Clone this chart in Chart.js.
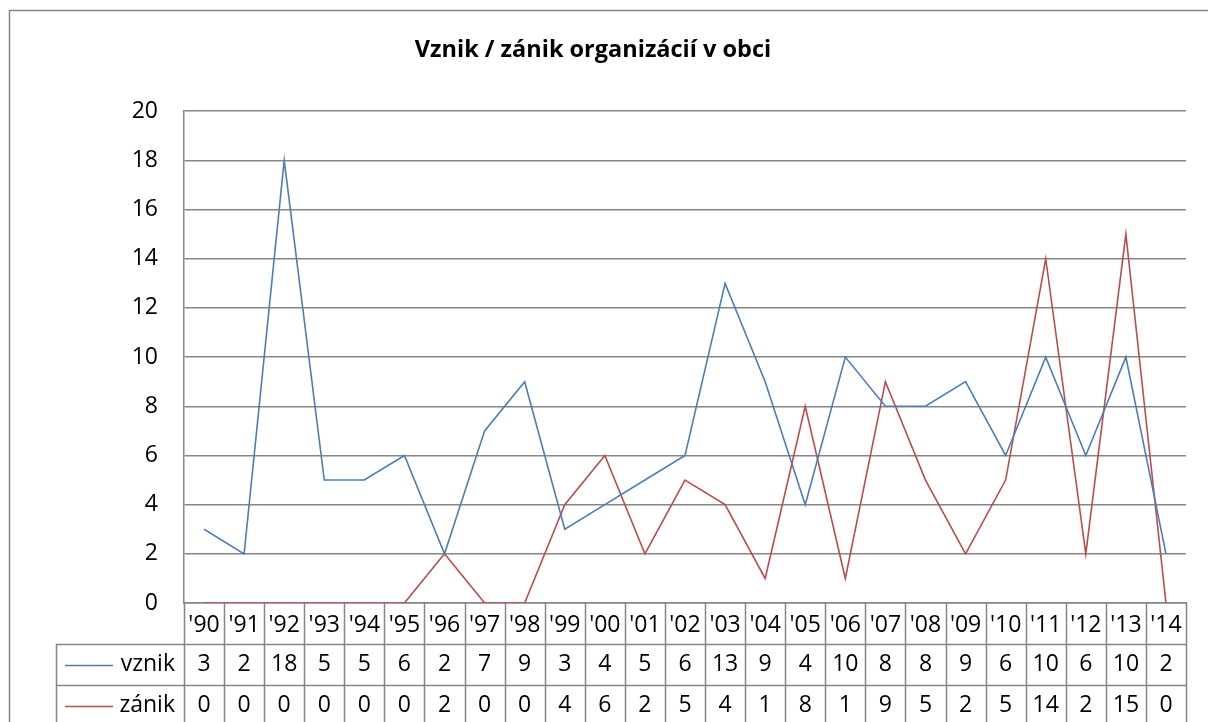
<!DOCTYPE html>
<html>
<head>
<meta charset="utf-8">
<script src="https://cdn.jsdelivr.net/npm/chart.js@4/dist/chart.umd.min.js"></script>
<style>
    html, body { margin: 0; padding: 0; background: #fff; }
    #wrap { width: 1208px; height: 722px; }
</style>
</head>
<body>
<div id="wrap"><canvas id="chartOrg" width="1208" height="722"></canvas></div>
<script>
let years = ["'90", "'91", "'92", "'93", "'94", "'95", "'96", "'97", "'98", "'99", "'00", "'01", "'02",
    "'03", "'04", "'05", "'06", "'07", "'08", "'09", "'10", "'11", "'12", "'13", "'14"];
let vznik = [3, 2, 18, 5, 5, 6, 2, 7, 9, 3, 4, 5, 6, 13, 9, 4, 10, 8, 8, 9, 6, 10, 6, 10, 2];
let zanik = [0, 0, 0, 0, 0, 0, 2, 0, 0, 4, 6, 2, 5, 4, 1, 8, 1, 9, 5, 2, 5, 14, 2, 15, 0];
let seriesNames = ["vznik", "zánik"];

let fontName = "'Open Sans', Lato, sans-serif";
let fontSize = 23;
let gridColor = "#868686";
let blue = "#4A7EBB";
let red = "#BE4B48";

// data table under the plot + outer frame
let dataTable = {
    id: "dataTable",
    afterDraw(chart) {
        let c = chart.ctx;
        let x = chart.scales.x;
        let area = chart.chartArea;
        let w = x.getPixelForValue(1) - x.getPixelForValue(0);
        let row0 = area.bottom + 41;
        let rowH = 41;
        let tableLeft = 56;

        c.save();
        c.strokeStyle = gridColor;
        c.lineWidth = 1.5;
        c.strokeRect(9.5, 10.5, 1300, 800);

        c.beginPath();
        for (let i = 0; i <= years.length; i++) {
            let ex = Math.round(x.getPixelForValue(i) - w / 2) + 0.5;
            c.moveTo(ex, area.bottom);
            c.lineTo(ex, 722);
        }
        c.moveTo(tableLeft + 0.5, row0);
        c.lineTo(tableLeft + 0.5, 722);
        c.moveTo(tableLeft, row0 + 0.5);
        c.lineTo(area.right, row0 + 0.5);
        c.moveTo(tableLeft, row0 + rowH + 0.5);
        c.lineTo(area.right, row0 + rowH + 0.5);
        c.stroke();

        let rows = [vznik, zanik];
        let colors = [blue, red];
        c.font = fontSize + "px " + fontName;
        c.textBaseline = "middle";
        for (let r = 0; r < rows.length; r++) {
            let cy = row0 + rowH * r + rowH / 2;
            c.strokeStyle = colors[r];
            c.lineWidth = 1.5;
            c.beginPath();
            c.moveTo(65, cy + 1);
            c.lineTo(113, cy + 1);
            c.stroke();
            c.fillStyle = "#000";
            c.textAlign = "right";
            c.fillText(seriesNames[r], 175, cy);
            c.textAlign = "center";
            for (let i = 0; i < rows[r].length; i++) {
                c.fillText(String(rows[r][i]), x.getPixelForValue(i), cy);
            }
        }
        c.restore();
    },
};

let ctx = document.getElementById("chartOrg").getContext("2d");
let myChart = new Chart(ctx, {
    type: "line",
    data: {
        labels: years,
        datasets: [
            {
                label: seriesNames[0],
                data: vznik,
                borderColor: blue,
                borderWidth: 1.6,
                pointRadius: 0,
                tension: 0,
            },
            {
                label: seriesNames[1],
                data: zanik,
                borderColor: red,
                borderWidth: 1.6,
                pointRadius: 0,
                tension: 0,
            },
        ],
    },
    options: {
        responsive: false,
        animation: false,
        layout: {
            padding: { left: 0, right: 22, top: 0, bottom: 78 },
        },
        plugins: {
            legend: { display: false },
            tooltip: { enabled: false },
            title: {
                display: true,
                text: "Vznik / zánik organizácií v obci",
                color: "#000",
                font: { family: fontName, size: 23.5, weight: "bold" },
                padding: { top: 36, bottom: 47 },
            },
        },
        scales: {
            x: {
                offset: true,
                grid: { display: false },
                border: { display: true, color: gridColor, width: 1.5 },
                ticks: {
                    color: "#000",
                    font: { family: fontName, size: fontSize },
                    padding: 1,
                    maxRotation: 0,
                    autoSkip: false,
                },
                afterFit(scale) {
                    scale.height = 41;
                },
            },
            y: {
                min: 0,
                max: 20,
                grid: { color: gridColor, lineWidth: 1.5, drawTicks: false },
                border: { display: true, color: gridColor, width: 1.5 },
                ticks: {
                    stepSize: 2,
                    color: "#000",
                    padding: 26,
                    font: { family: fontName, size: fontSize },
                },
                afterFit(scale) {
                    scale.width = 184;
                },
            },
        },
    },
    plugins: [dataTable],
});
</script>
</body>
</html>
